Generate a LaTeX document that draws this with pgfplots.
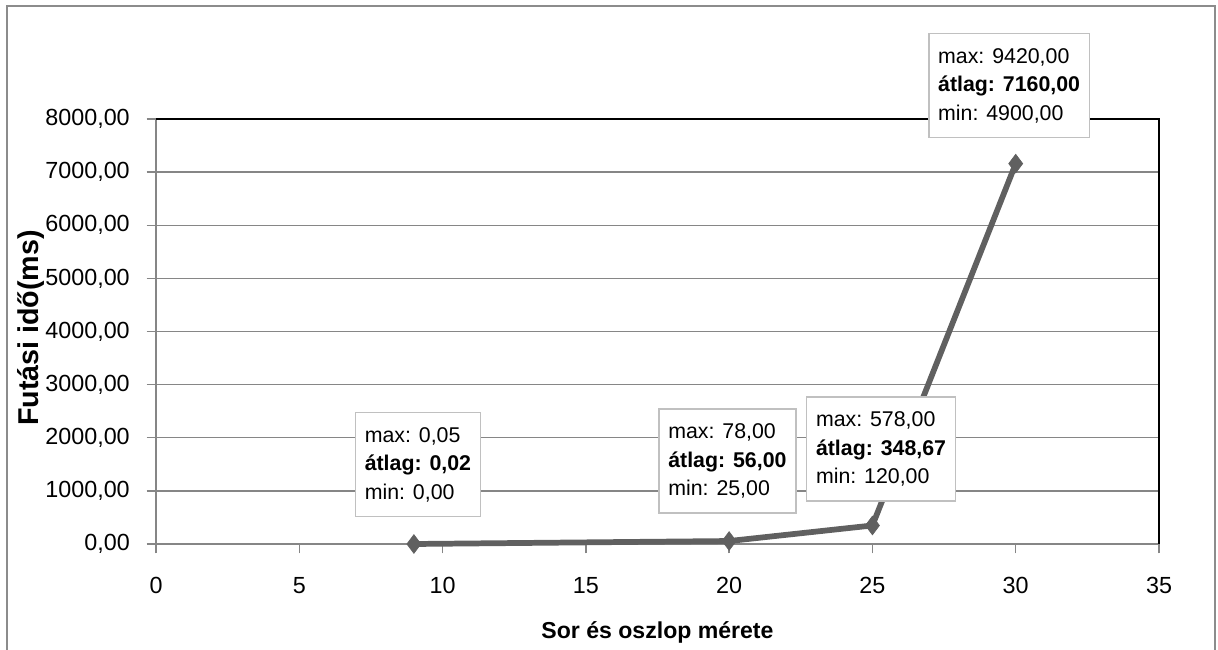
\documentclass[border=0pt]{standalone}
\usepackage{fontspec}
\setmainfont{Liberation Sans}
\usepackage{pgfplots}
\pgfplotsset{compat=1.18}
\definecolor{linec}{RGB}{96,96,96}
\definecolor{gridc}{RGB}{134,134,134}
\definecolor{framec}{RGB}{140,140,140}
\definecolor{boxc}{RGB}{192,192,192}
\tikzset{annot/.style={draw=boxc, fill=white, line width=1.1pt, align=left, inner xsep=7pt, inner ysep=11pt, font=\fontsize{16}{21.4}\selectfont},
 tlab/.style={inner sep=0pt, font=\fontsize{17.5}{21}\selectfont}}
\begin{document}
\begin{tikzpicture}
\path[use as bounding box] (0,0) rectangle (913.5pt,487.5pt);
\draw[framec, line width=1.5pt] (5.25pt,-10pt) rectangle (911.25pt,483pt);
\begin{axis}[
 at={(117pt,79.5pt)}, anchor=south west,
 scale only axis, width=752.25pt, height=318.75pt,
 xmin=0, xmax=35, ymin=0, ymax=8000,
 xtick={0,5,...,35}, ytick={0,1000,...,8000},
 xticklabels={}, yticklabels={},
 axis line style={draw=none},
 clip=false,
 tick align=outside, xtick pos=bottom, ytick pos=left,
 major tick length=7pt,
 tick style={gridc, line width=1.1pt},
 ymajorgrids, major grid style={gridc, line width=1.1pt},
 xlabel={Sor és oszlop mérete},
 ylabel={Futási idő(ms)},
 x label style={at={(axis description cs:0.5,-0.207)}, anchor=center, font=\bfseries\fontsize{17.3}{20}\selectfont},
 y label style={at={(axis description cs:-0.1251,0.5082)}, anchor=center, font=\bfseries\fontsize{21.5}{24}\selectfont},
]
\draw[gridc, line width=1.1pt] (rel axis cs:0,1) -- (rel axis cs:0,0) -- (rel axis cs:1,0);
\draw[black, line width=1.1pt] (rel axis cs:0,1) -- (rel axis cs:1,1) -- (rel axis cs:1,0);
\pgfplotsinvokeforeach{0,5,10,15,20,25,30,35}{
 \node[tlab, anchor=north, yshift=-24.75pt] at (axis cs:#1,0) {#1};
}
\pgfplotsinvokeforeach{0,1000,2000,3000,4000,5000,6000,7000,8000}{
 \node[tlab, anchor=east, xshift=-19.5pt] at (axis cs:0,#1) {#1,00};
}
\addplot[linec, line width=4.3pt, mark=diamond*, mark size=7pt, mark options={fill=linec, draw=linec, line width=0.5pt, solid}]
 coordinates {(9,0.02) (20,56) (25,348.67) (30,7160)};
\node[annot] at (axis cs:9.14,1497) {max: 0,05\\\textbf{átlag: 0,02}\\min: 0,00};
\node[annot] at (axis cs:19.94,1562) {max: 78,00\\\textbf{átlag: 56,00}\\min: 25,00};
\node[annot] at (axis cs:25.30,1788) {max: 578,00\\\textbf{átlag: 348,67}\\min: 120,00};
\node[annot] at (axis cs:29.77,8631) {max: 9420,00\\\textbf{átlag: 7160,00}\\min: 4900,00};
\end{axis}
\end{tikzpicture}
\end{document}
